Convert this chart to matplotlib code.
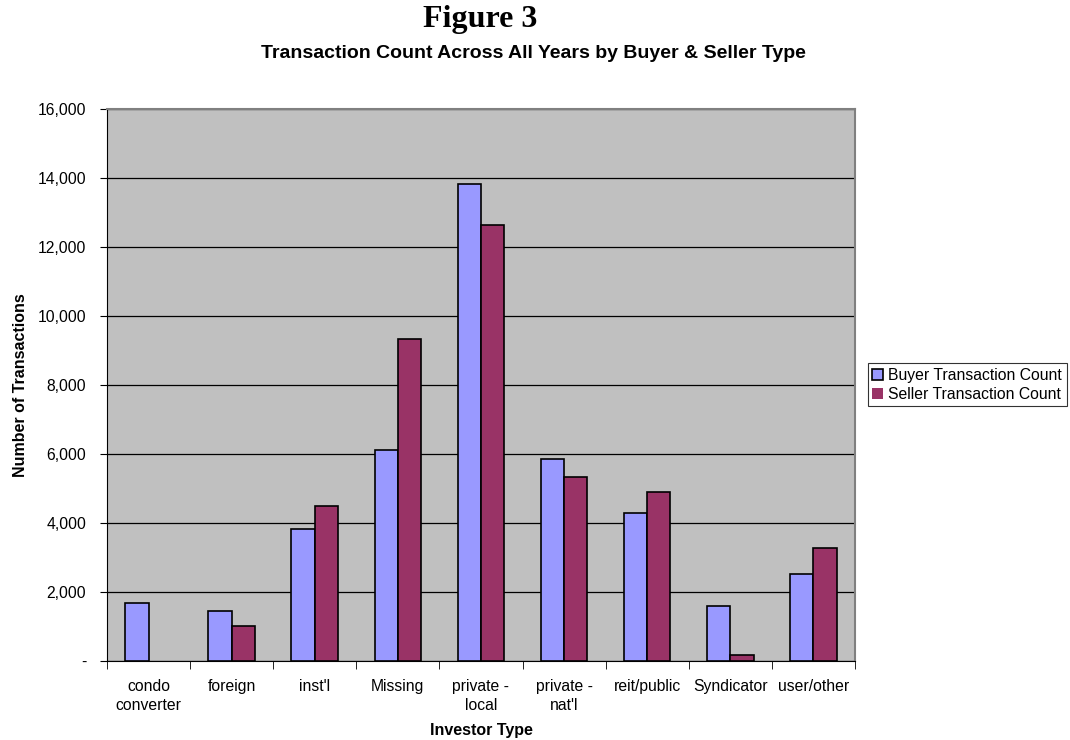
import matplotlib

matplotlib.use("Agg")
import matplotlib.pyplot as plt
import numpy as np
from matplotlib.ticker import FuncFormatter, FixedLocator

CATEGORIES = ["condo\nconverter", "foreign", "inst'l", "Missing", "private -\nlocal",
              "private -\nnat'l", "reit/public", "Syndicator", "user/other"]
BUYER = [1680, 1430, 3830, 6120, 13820, 5850, 4290, 1580, 2520]
SELLER = [0, 1020, 4490, 9330, 12620, 5330, 4890, 170, 3270]

BUYER_COLOR = "#9999FF"
SELLER_COLOR = "#993366"
FONT = "Liberation Sans"
TICK_SIZE = 11.3


def _fmt(v, _pos):
    return "-" if v == 0 else f"{int(v):,}"


def main() -> None:
    plt.rcParams["font.family"] = FONT
    fig = plt.figure(figsize=(10.7, 7.4), dpi=100)
    ax = fig.add_axes([0.1, 0.107, 0.699, 0.746])
    ax.set_facecolor("#C0C0C0")

    x = np.arange(len(CATEGORIES))
    w = 0.28
    # zero-height bars get no outline (Excel draws nothing there)
    ax.bar(x - w / 2, BUYER, w, color=BUYER_COLOR, edgecolor="black",
           linewidth=[0 if v == 0 else 1.2 for v in BUYER],
           label="Buyer Transaction Count", zorder=3)
    ax.bar(x + w / 2, SELLER, w, color=SELLER_COLOR, edgecolor="black",
           linewidth=[0 if v == 0 else 1.2 for v in SELLER],
           label="Seller Transaction Count", zorder=3)

    ax.set_xlim(-0.5, len(CATEGORIES) - 0.5)
    ax.set_ylim(0, 16000)
    ax.set_yticks(np.arange(0, 16001, 2000))
    ax.yaxis.set_major_formatter(FuncFormatter(_fmt))
    ax.yaxis.grid(True, color="black", linewidth=0.9, zorder=1)

    ax.set_xticks(x)
    ax.set_xticklabels(CATEGORIES, fontsize=TICK_SIZE, linespacing=1.35)
    ax.tick_params(axis="x", which="major", length=0, pad=13)
    ax.xaxis.set_minor_locator(FixedLocator(np.arange(-0.5, len(CATEGORIES), 1.0)))
    ax.tick_params(axis="x", which="minor", length=6, direction="out")
    ax.tick_params(axis="y", length=5, direction="out", labelsize=TICK_SIZE, pad=10)

    for side in ("top", "right"):
        ax.spines[side].set_color("#808080")
        ax.spines[side].set_linewidth(1.5)
    for side in ("left", "bottom"):
        ax.spines[side].set_color("black")

    ax.set_ylabel("Number of Transactions", fontsize=11.5, fontweight="bold", labelpad=7)
    ax.set_xlabel("Investor Type", fontsize=11.5, fontweight="bold", labelpad=7)

    fig.text(0.449, 0.973, "Figure 3", ha="center", va="center", fontsize=23,
             fontweight="bold", family="Liberation Serif")
    fig.text(0.499, 0.928, "Transaction Count Across All Years by Buyer & Seller Type",
             ha="center", va="center", fontsize=14, fontweight="bold")

    leg = ax.legend(loc="center left", bbox_to_anchor=(0.811, 0.48),
                    bbox_transform=fig.transFigure, fontsize=TICK_SIZE, frameon=True,
                    fancybox=False, edgecolor="black", handlelength=0.7,
                    handleheight=0.7, handletextpad=0.3, borderpad=0.3,
                    labelspacing=0.25, borderaxespad=0)
    leg.get_frame().set_linewidth(0.8)

    fig.savefig("out.png", dpi=100)


if __name__ == "__main__":
    main()
